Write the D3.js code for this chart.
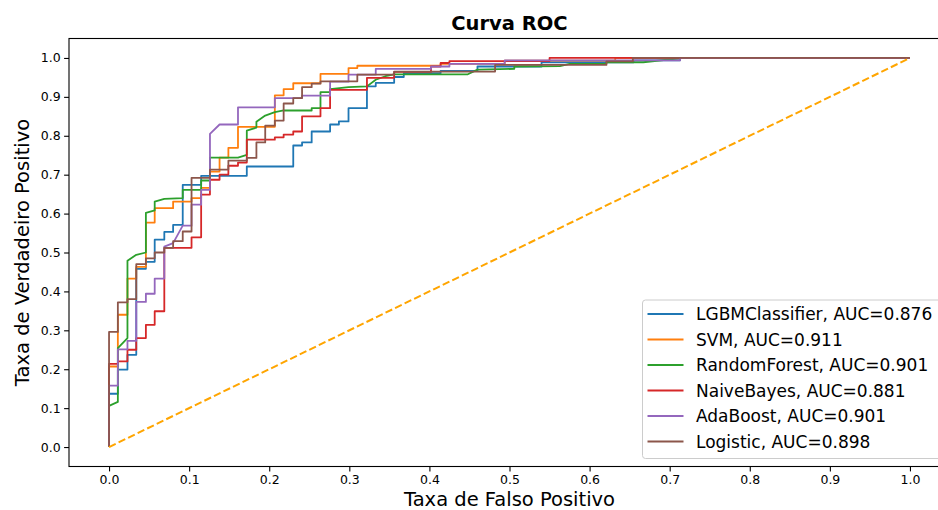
<!DOCTYPE html>
<html>
<head>
<meta charset="utf-8">
<script src="https://cdn.jsdelivr.net/npm/d3@7"></script>
<style>
  body { margin: 0; background: #fff; }
  svg { display: block; font-family: "DejaVu Sans", sans-serif; }
</style>
</head>
<body>
<svg id="chart"></svg>
<script>
// ROC points [fpr, tpr] per model
const lgbm = [[0,0],[0,.137],[.011,.137],[.011,.199],[.023,.199],[.023,.237],[.034,.237],[.034,.458],[.046,.458],[.046,.476],[.057,.476],[.057,.533],[.069,.533],[.069,.553],[.080,.553],[.080,.571],[.092,.571],[.092,.674],[.115,.674],[.115,.697],[.172,.697],[.172,.721],[.230,.721],[.230,.775],[.241,.775],[.241,.783],[.253,.783],[.253,.811],[.276,.811],[.276,.829],[.287,.829],[.287,.837],[.299,.837],[.299,.871],[.322,.871],[.322,.927],[.333,.927],[.333,.936],[.356,.936],[.356,.951],[.368,.951],[.368,.961],[.414,.961],[.414,.967],[.460,.967],[.460,.978],[.540,.978],[.540,.989],[.655,.989],[.655,.994],[.713,.994],[.713,1],[1,1]];
const svm = [[0,0],[0,.207],[.011,.207],[.011,.340],[.023,.340],[.023,.433],[.034,.433],[.034,.463],[.046,.463],[.046,.577],[.057,.577],[.057,.614],[.080,.614],[.080,.631],[.103,.631],[.103,.640],[.115,.640],[.115,.666],[.126,.666],[.126,.708],[.138,.708],[.138,.744],[.149,.744],[.149,.769],[.161,.769],[.161,.823],[.207,.823],[.207,.904],[.218,.904],[.218,.920],[.230,.920],[.230,.935],[.264,.935],[.264,.959],[.299,.959],[.299,.974],[.310,.974],[.310,.980],[.414,.980],[.414,.985],[.494,.985],[.494,.993],[.632,.993],[.632,1],[1,1]];
const randomForest = [[0,0],[0,.106],[.011,.116],[.011,.254],[.023,.280],[.023,.479],[.034,.494],[.046,.500],[.046,.602],[.057,.608],[.057,.631],[.069,.638],[.092,.640],[.092,.661],[.115,.661],[.115,.685],[.126,.685],[.126,.744],[.161,.744],[.172,.751],[.172,.813],[.184,.821],[.184,.836],[.195,.852],[.207,.861],[.218,.865],[.253,.865],[.253,.871],[.264,.871],[.264,.912],[.276,.912],[.276,.920],[.299,.925],[.322,.927],[.333,.944],[.345,.953],[.356,.958],[.448,.958],[.460,.970],[.506,.972],[.506,.978],[.563,.979],[.575,.985],[.621,.985],[.621,.989],[.667,.989],[.718,1],[1,1]];
const naiveBayes = [[0,0],[0,.214],[.011,.214],[.011,.220],[.023,.220],[.023,.250],[.034,.250],[.034,.280],[.046,.280],[.046,.314],[.057,.314],[.057,.349],[.069,.349],[.069,.512],[.103,.512],[.103,.539],[.115,.539],[.115,.649],[.126,.649],[.126,.687],[.138,.687],[.138,.700],[.149,.700],[.149,.723],[.161,.723],[.161,.731],[.172,.731],[.172,.790],[.207,.790],[.207,.796],[.218,.796],[.218,.803],[.230,.803],[.230,.811],[.241,.811],[.241,.850],[.264,.850],[.264,.871],[.276,.871],[.276,.918],[.322,.918],[.322,.949],[.356,.949],[.356,.964],[.402,.964],[.402,.978],[.414,.978],[.414,.987],[.425,.987],[.425,.992],[.550,.992],[.550,1],[1,1]];
const adaBoost = [[0,0],[0,.158],[.011,.158],[.011,.251],[.023,.251],[.023,.273],[.034,.273],[.034,.373],[.046,.373],[.046,.394],[.057,.394],[.057,.433],[.069,.433],[.069,.515],[.080,.524],[.092,.569],[.103,.569],[.103,.623],[.115,.623],[.115,.661],[.126,.661],[.126,.805],[.138,.829],[.161,.829],[.161,.873],[.207,.873],[.207,.897],[.241,.897],[.241,.903],[.276,.903],[.276,.939],[.299,.939],[.299,.957],[.333,.957],[.333,.972],[.402,.972],[.402,.978],[.425,.978],[.425,.985],[.494,.985],[.494,.994],[.713,.994],[.713,1],[1,1]];
const logistic = [[0,0],[0,.296],[.011,.296],[.011,.372],[.023,.372],[.023,.380],[.034,.380],[.034,.470],[.046,.470],[.046,.485],[.057,.485],[.057,.500],[.069,.500],[.069,.512],[.080,.512],[.080,.529],[.092,.529],[.092,.554],[.103,.554],[.103,.692],[.126,.692],[.126,.713],[.149,.713],[.149,.736],[.172,.736],[.172,.743],[.184,.743],[.184,.783],[.195,.783],[.195,.826],[.207,.826],[.207,.839],[.218,.839],[.218,.883],[.230,.883],[.230,.897],[.241,.897],[.241,.925],[.253,.925],[.253,.934],[.264,.934],[.264,.940],[.310,.940],[.310,.957],[.356,.957],[.356,.965],[.482,.965],[.482,.982],[.621,.982],[.621,.991],[.654,.991],[.654,1],[1,1]];
const chance = [[0,0],[1,1]];

const modelNames = ["LGBMClassifier", "SVM", "RandomForest", "NaiveBayes", "AdaBoost", "Logistic"];
const aucValues = [0.876, 0.911, 0.901, 0.881, 0.901, 0.898];
const curves = [lgbm, svm, randomForest, naiveBayes, adaBoost, logistic];
const colors = ["#1f77b4", "#ff7f0e", "#2ca02c", "#d62728", "#9467bd", "#8c564b"];
const tickValues = [0, 0.1, 0.2, 0.3, 0.4, 0.5, 0.6, 0.7, 0.8, 0.9, 1.0];

const width = 938, height = 510;
const plotLeft = 69, plotRight = 950, plotTop = 38.5, plotBottom = 466.5;

const svg = d3.select("#chart").attr("width", width).attr("height", height);

const x = d3.scaleLinear().domain([-0.05, 1.05]).range([plotLeft, plotRight]);
const y = d3.scaleLinear().domain([-0.05, 1.05]).range([plotBottom, plotTop]);

const xAxis = d3.axisBottom(x).tickValues(tickValues).tickFormat(d3.format(".1f")).tickSize(4.9).tickPadding(3.5).tickSizeOuter(0);
const yAxis = d3.axisLeft(y).tickValues(tickValues).tickFormat(d3.format(".1f")).tickSize(4.9).tickPadding(3.5).tickSizeOuter(0);

const gx = svg.append("g").attr("transform", `translate(0,${plotBottom})`).call(xAxis);
const gy = svg.append("g").attr("transform", `translate(${plotLeft},0)`).call(yAxis);
[gx, gy].forEach(g => {
    g.select(".domain").remove();
    g.selectAll("line").attr("stroke", "#000").attr("stroke-width", 1.1);
    g.selectAll("text").attr("fill", "#000").style("font-size", "12.5px").style("font-family", "DejaVu Sans");
});

const line = d3.line().x(d => x(d[0])).y(d => y(d[1]));

const plot = svg.append("g");
curves.forEach((c, i) => {
    plot.append("path")
        .datum(c)
        .attr("fill", "none")
        .attr("stroke", colors[i])
        .attr("stroke-width", 1.8)
        .attr("stroke-linejoin", "round")
        .attr("d", line);
});

plot.append("path")
    .datum(chance)
    .attr("fill", "none")
    .attr("stroke", "orange")
    .attr("stroke-width", 2)
    .attr("stroke-dasharray", "7.4,3.2")
    .attr("d", line);

// spines
svg.append("rect")
    .attr("x", plotLeft).attr("y", plotTop)
    .attr("width", plotRight - plotLeft).attr("height", plotBottom - plotTop)
    .attr("fill", "none").attr("stroke", "#000").attr("stroke-width", 1.1);

// title and axis labels
svg.append("text")
    .attr("x", (plotLeft + plotRight) / 2).attr("y", 30)
    .attr("text-anchor", "middle")
    .style("font-size", "19.5px").style("font-weight", "bold")
    .text("Curva ROC");

svg.append("text")
    .attr("x", (plotLeft + plotRight) / 2).attr("y", 506)
    .attr("text-anchor", "middle")
    .style("font-size", "19.5px")
    .text("Taxa de Falso Positivo");

svg.append("text")
    .attr("transform", `translate(29,${(plotTop + plotBottom) / 2}) rotate(-90)`)
    .attr("text-anchor", "middle")
    .style("font-size", "19.5px")
    .text("Taxa de Verdadeiro Positivo");

// legend
const lg = svg.append("g");
lg.append("rect")
    .attr("x", 642.5).attr("y", 300)
    .attr("width", 299).attr("height", 158.5)
    .attr("rx", 3)
    .attr("fill", "#fff").attr("fill-opacity", 0.8)
    .attr("stroke", "#cccccc").attr("stroke-width", 1);

modelNames.forEach((name, i) => {
    const yy = 314 + i * 25.5;
    lg.append("line")
        .attr("x1", 647.5).attr("x2", 683.5)
        .attr("y1", yy).attr("y2", yy)
        .attr("stroke", colors[i]).attr("stroke-width", 1.8);
    lg.append("text")
        .attr("x", 696).attr("y", yy)
        .attr("dominant-baseline", "central")
        .style("font-size", "17px")
        .text(`${name}, AUC=${aucValues[i].toFixed(3)}`);
});
</script>
</body>
</html>
